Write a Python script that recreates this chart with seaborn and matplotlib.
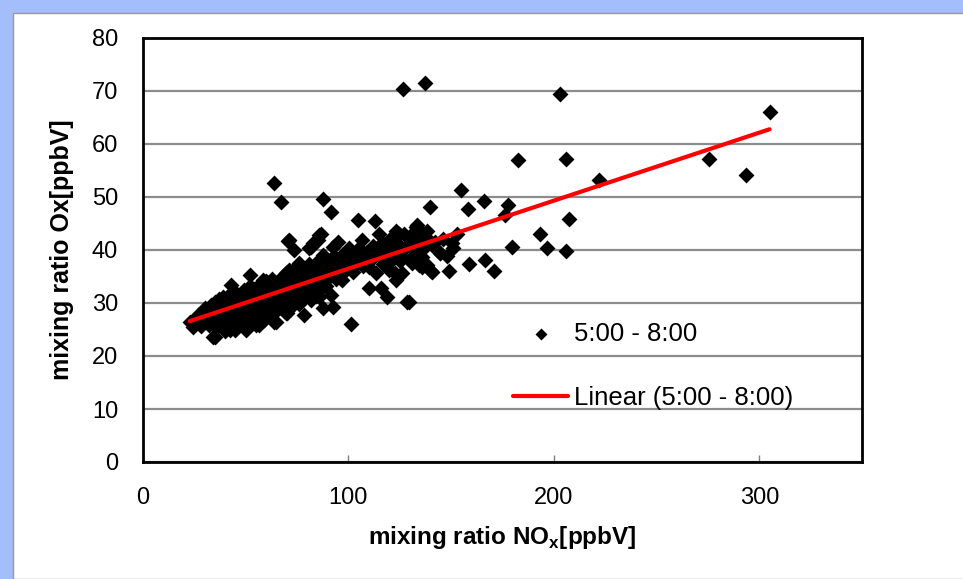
import matplotlib
matplotlib.use("Agg")
import matplotlib.pyplot as plt
import seaborn as sns
import pandas as pd
from matplotlib.patches import Rectangle

# ---------------- data ----------------
nox_upper = [126.5, 137.5, 203, 305, 182.6, 205.7, 275.5, 293.4, 222.2, 155, 139.8, 158.4,
             166.1, 177.9, 176.3, 207.3, 193.4, 179.7, 196.6, 205.9, 153, 144.6, 151, 158.5,
             166.3, 171.1, 149.2, 140, 132.7, 124.6, 135.8, 139.1, 131, 121.4, 131, 135.8,
             122.9, 129.4, 133.5, 138.3, 134.3, 136.7, 140.7, 144.7, 150.4, 131.8, 134.3,
             138.3, 140.7, 135.8]
ox_upper = [70.3, 71.5, 69.4, 66.1, 57.0, 57.2, 57.2, 54.2, 53.3, 51.3, 48.2, 47.7,
            49.2, 48.4, 46.6, 45.8, 43.1, 40.5, 40.3, 39.9, 43.1, 39.4, 40.3, 37.4,
            38.2, 36.0, 36.0, 36.1, 44.4, 43.1, 43.1, 41.9, 40.6, 38.1, 37.5, 36.8,
            35.6, 30.2, 44.7, 43.6, 42.3, 41.3, 40.9, 39.4, 41.3, 38.1, 37.2,
            37.2, 35.9, 38.7]

nox_mid = [87.4, 91.6, 104.9, 112.8, 114.9, 106.5, 116.5, 123, 127, 86.6, 85, 81.8, 73.7,
           71.3, 94.7, 92.3, 100.3, 97.1, 87.4, 76.1, 82.6, 77.7, 90.6, 99.5, 97.1, 87.4,
           91.5, 87.4, 92.3, 78.5, 101.2, 110, 115.7, 118.9, 128.6, 110, 113.3, 119.7, 123,
           126.2, 106.8, 108.4, 119.7, 126.2, 103.6, 72.9, 72.9, 79.3, 81.8, 85.8,
           75.3, 77.7, 51.9, 43, 58.3, 69.7, 34.1, 24.4, 22.8, 50.3, 56.7, 64.8, 69.7, 42.2,
           64, 67.2, 70.4, 85.8, 82.6, 81]
ox_mid = [49.6, 47.1, 45.6, 45.5, 43.1, 41.9, 41.3, 43.5, 43.1, 43.1, 41.9, 40.6, 40.0,
          41.9, 41.6, 40.6, 40.3, 39.1, 39.1, 37.5, 35.6, 35.9, 36.8, 37.5, 34.3, 33.7,
          31.5, 29.0, 29.3, 27.7, 26.0, 32.8, 32.8, 31.2, 30.1, 36.8, 35.6, 36.2, 34.3,
          35.6, 37.5, 38.7, 38.7, 38.7, 39.4, 34.3, 31.8, 32.5, 30.6, 31.2,
          37.2, 35.3, 35.3, 33.4, 34.3, 35.6, 23.5, 25.5, 26.5, 24.9, 25.8, 26.5, 28.1, 24.9,
          52.7, 49.0, 41.7, 42.8, 41.3, 40.3]

nox_dense = [26, 27, 28, 29, 30, 30, 31, 32, 32, 33, 33, 34, 34, 35, 35, 36, 36, 37, 37, 38,
             38, 39, 39, 40, 40, 40, 41, 41, 42, 42, 42, 43, 43, 43, 44, 44, 45, 45, 45, 46,
             46, 47, 47, 48, 48, 48, 49, 49, 50, 50, 50, 51, 51, 52, 52, 52, 53, 53, 54, 54,
             54, 55, 55, 55, 56, 56, 57, 57, 58, 58, 58, 59, 59, 60, 60, 60, 61, 61, 62, 62,
             63, 63, 63, 64, 64, 65, 65, 66, 66, 67, 67, 68, 68, 69, 69, 70, 70, 70, 71, 71,
             72, 72, 73, 73, 74, 74, 75, 75, 76, 76, 77, 77, 78, 78, 79, 80, 80, 81, 81, 82,
             83, 83, 84, 84, 85, 85, 86, 86, 88, 88, 89, 90, 90, 92, 93, 94, 95, 96, 98, 99,
             101, 102, 104, 105, 107, 109, 111, 112, 115, 117, 118, 120, 121, 124, 125, 128,
             130, 132, 134, 136, 142, 146, 148, 35, 40, 45, 55, 64, 70]
ox_dense = [26.5, 27.8, 25.6, 28.4, 26.9, 29.1, 27.6, 25.9, 28.8, 27.2, 29.7, 26.3, 28.5,
            30.2, 27.4, 25.4, 29.0, 28.0, 30.8, 26.6, 29.5, 27.9, 31.2, 26.1, 28.7, 30.3,
            27.3, 29.8, 25.8, 28.2, 31.6, 27.0, 29.3, 30.9, 26.4, 28.6, 27.7, 30.1, 32.0,
            25.9, 29.0, 27.3, 31.0, 28.3, 30.4, 26.2, 29.6, 32.5, 27.6, 30.9, 25.3, 28.8,
            31.8, 26.8, 30.0, 33.2, 28.1, 31.3, 27.2, 29.5, 32.6, 26.0, 30.7, 28.4, 31.9,
            29.2, 27.5, 33.6, 30.3, 28.0, 32.1, 29.6, 26.7, 31.4, 34.2, 28.9, 30.2, 27.6,
            32.7, 29.4, 31.0, 34.6, 27.0, 30.5, 32.9, 28.6, 31.7, 33.8, 30.0, 29.1, 32.3,
            35.1, 31.2, 30.4, 33.0, 28.4, 34.1, 31.6, 32.8, 36.2, 30.9, 33.5, 29.6, 35.0,
            32.2, 34.4, 31.0, 36.6, 33.4, 29.9, 34.8, 32.0, 36.0, 30.8, 33.7, 35.4, 31.9,
            34.3, 37.3, 32.6, 36.1, 33.9, 31.4, 35.0, 37.9, 34.0, 32.4, 36.5, 35.3, 38.4,
            33.2, 34.8, 37.7, 36.0, 38.9, 34.6, 37.0, 35.6, 38.2, 36.3, 39.0, 35.9, 37.6,
            40.4, 36.9, 39.6, 38.1, 40.8, 39.2, 37.4, 40.9, 42.1, 39.7, 41.2, 37.9, 40.5,
            42.6, 39.0, 41.8, 40.0, 41.5, 42.0, 38.9, 23.5, 24.8, 24.9, 25.8, 26.5, 28.1]

series_label = "5:00 - 8:00"
trend_label = "Linear (5:00 - 8:00)"
trend_slope = 0.1283
trend_intercept = 23.65
x_ticks = [0, 100, 200, 300]
y_ticks = [0, 10, 20, 30, 40, 50, 60, 70, 80]
x_label = r"mixing ratio NO$_\mathregular{x}$[ppbV]"
y_label = "mixing ratio Ox[ppbV]"

df = pd.DataFrame({"nox": nox_upper + nox_mid + nox_dense,
                   "ox": ox_upper + ox_mid + ox_dense})
x_fit = [df["nox"].min(), df["nox"].max()]
trend = pd.DataFrame({"nox": x_fit,
                      "ox": [trend_intercept + trend_slope * v for v in x_fit]})

# ---------------- figure ----------------
sns.set_theme(style="white")
plt.rcParams["font.family"] = ["Liberation Sans", "DejaVu Sans"]
plt.rcParams["text.color"] = "black"

W, H = 963, 579
fig = plt.figure(figsize=(W / 100, H / 100), dpi=100, facecolor="#A3BEFA")
fig.patches.append(Rectangle((13 / W, 0), 1, 1 - 13 / H, transform=fig.transFigure,
                             facecolor="white", edgecolor="#9a9a9a", lw=1, zorder=-10))

ax = fig.add_axes([143 / W, 1 - 462 / H, (862 - 143) / W, (462 - 38) / H])
ax.set_zorder(5)
ax.set_facecolor("white")

sns.scatterplot(data=df, x="nox", y="ox", ax=ax, marker="D", s=66, color="black",
                edgecolor="black", linewidth=0, label=series_label, zorder=3)
sns.lineplot(data=trend, x="nox", y="ox", ax=ax, color="#FF0000", lw=3,
             label=trend_label, zorder=4)

ax.set_xlim(0, 350)
ax.set_ylim(0, 80)
ax.set_xticks(x_ticks)
ax.set_yticks(y_ticks)
ax.yaxis.grid(True, color="#8c8c8c", lw=1.6, zorder=0)
ax.xaxis.grid(False)
ax.set_axisbelow(True)

ax.tick_params(axis="x", direction="in", length=5, width=1, color="#808080",
               pad=18, labelsize=17, labelcolor="black", bottom=True)
ax.tick_params(axis="y", direction="out", length=0, pad=18, labelsize=17,
               labelcolor="black", left=True)
for sp in ax.spines.values():
    sp.set_visible(True)
    sp.set_color("black")
    sp.set_linewidth(2)

ax.set_xlabel(x_label, fontsize=17.5, fontweight="bold", labelpad=11, color="black")
ax.set_ylabel(y_label, fontsize=18, fontweight="bold", labelpad=13, color="black")

leg = ax.legend(loc="upper left", bbox_to_anchor=(0.5146, 0.33), frameon=False,
                fontsize=18.5, labelspacing=1.55, handlelength=2.15, handletextpad=0.23,
                markerscale=0.75, borderaxespad=0, borderpad=0, labelcolor="black")

fig.savefig("out.png", dpi=100, facecolor=fig.get_facecolor())
